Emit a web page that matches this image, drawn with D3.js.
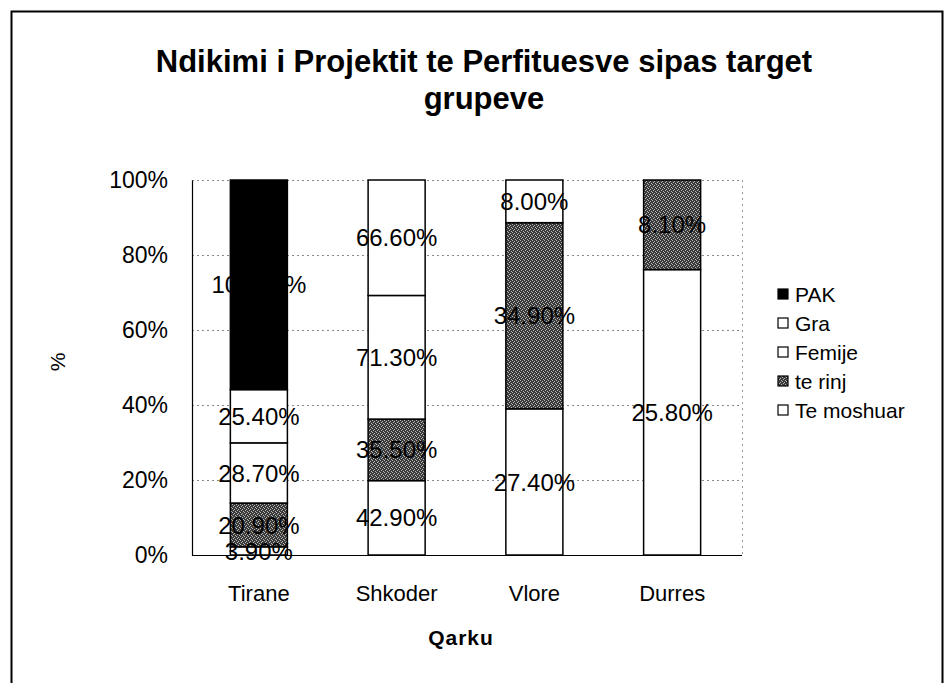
<!DOCTYPE html>
<html>
<head>
<meta charset="utf-8">
<script src="https://cdn.jsdelivr.net/npm/d3@7/dist/d3.min.js"></script>
<style>
  body { margin: 0; background: #fff; }
  svg { display: block; font-family: "Liberation Sans", Arial, sans-serif; }
</style>
</head>
<body>
<svg id="chart" width="944" height="683"></svg>
<script>
// ---- data ----
const categories = ["Tirane", "Shkoder", "Vlore", "Durres"];
const seriesNames = ["Te moshuar", "te rinj", "Femije", "Gra", "PAK"]; // stack order bottom -> top
const teMoshuar = [3.9, 42.9, 27.4, 25.8];
const teRinj    = [20.9, 35.5, 34.9, 8.1];
const femije    = [28.7, 71.3, 8.0, 0];
const gra       = [25.4, 66.6, 0, 0];
const pak       = [100.0, 0, 0, 0];
const yTicks = [0, 0.2, 0.4, 0.6, 0.8, 1.0];
const legendOrder = ["PAK", "Gra", "Femije", "te rinj", "Te moshuar"];
const titleLines = ["Ndikimi i Projektit te Perfituesve sipas target", "grupeve"];
const xTitle = "Qarku";
const yTitle = "%";

const seriesValues = [teMoshuar, teRinj, femije, gra, pak];
const rows = categories.map((c, i) => {
  const r = { cat: c };
  seriesNames.forEach((s, j) => r[s] = seriesValues[j][i]);
  return r;
});

const svg = d3.select("#chart");
const FONT = "Liberation Sans, Arial, sans-serif";

// pattern for "te rinj"
const defs = svg.append("defs");
const pat = defs.append("pattern").attr("id", "stipple")
  .attr("width", 4).attr("height", 4).attr("patternUnits", "userSpaceOnUse");
pat.append("rect").attr("width", 4).attr("height", 4).attr("fill", "#3a3a3a");
[[0,0],[2,1],[1,2],[3,3]].forEach(([x,y]) =>
  pat.append("rect").attr("x", x).attr("y", y).attr("width", 1).attr("height", 1).attr("fill", "#b8b8b8"));

const fills = {
  "Te moshuar": "#ffffff",
  "te rinj": "url(#stipple)",
  "Femije": "#ffffff",
  "Gra": "#ffffff",
  "PAK": "#000000"
};

// outer frame
svg.append("path").attr("d", "M11.5,683 L11.5,11.5 L942.5,11.5 L942.5,683")
  .attr("fill", "none").attr("stroke", "#000").attr("stroke-width", 2);

const plotL = 192, plotR = 742, plotT = 180, plotB = 555;
const x = d3.scaleBand().domain(categories).range([190, 741]).paddingInner(0.586).paddingOuter(0.293);
const y = d3.scaleLinear().domain([0, 1]).range([plotB, plotT]);

// gridlines
svg.append("g").selectAll("line").data(yTicks.filter(t => t > 0)).join("line")
  .attr("x1", plotL).attr("x2", plotR)
  .attr("y1", d => Math.round(y(d)) + 0.5).attr("y2", d => Math.round(y(d)) + 0.5)
  .attr("stroke", "#888").attr("stroke-dasharray", "2,3").attr("stroke-width", 1);

// right plot edge (dotted)
svg.append("line").attr("x1", plotR + 0.5).attr("x2", plotR + 0.5).attr("y1", plotT).attr("y2", plotB)
  .attr("stroke", "#999").attr("stroke-dasharray", "2,4");

// stack (100%)
const stack = d3.stack().keys(seriesNames).offset(d3.stackOffsetExpand);
const stacked = stack(rows);

const fmt = d3.format(".2f");
const barG = svg.append("g");
stacked.forEach(layer => {
  const key = layer.key;
  layer.forEach(d => {
    const v = d.data[key];
    if (!v) return;
    barG.append("rect")
      .attr("x", x(d.data.cat)).attr("width", x.bandwidth())
      .attr("y", y(d[1])).attr("height", y(d[0]) - y(d[1]))
      .attr("fill", fills[key]).attr("stroke", "#000").attr("stroke-width", 1.5);
  });
});
stacked.forEach(layer => {
  const key = layer.key;
  layer.forEach(d => {
    const v = d.data[key];
    if (!v) return;
    barG.append("text")
      .attr("x", x(d.data.cat) + x.bandwidth() / 2)
      .attr("y", (y(d[0]) + y(d[1])) / 2)
      .attr("dy", "0.36em").attr("text-anchor", "middle")
      .attr("font-size", 24).attr("fill", "#000")
      .text(fmt(v) + "%");
  });
});

// axes
const yAxis = d3.axisLeft(y).tickValues(yTicks).tickFormat(d3.format(".0%")).tickSize(0).tickPadding(24);
const yg = svg.append("g").attr("transform", `translate(${plotL},0)`).call(yAxis);
yg.select(".domain").attr("stroke", "#000").attr("stroke-width", 1.2);
yg.selectAll("text").attr("font-size", 23).attr("font-family", FONT).attr("fill", "#000");

const xAxis = d3.axisBottom(x).tickSize(0).tickPadding(30);
const xg = svg.append("g").attr("transform", `translate(0,${plotB})`).call(xAxis);
xg.select(".domain").attr("d", `M${plotL},0.5H${plotR}`).attr("stroke", "#000").attr("stroke-width", 1.2);
xg.selectAll("text").attr("font-size", 22).attr("font-family", FONT).attr("fill", "#000");

// titles
const tt = svg.append("text").attr("x", 484).attr("text-anchor", "middle")
  .attr("font-size", 31).attr("font-weight", "bold");
titleLines.forEach((l, i) => tt.append("tspan").attr("x", 484).attr("y", 72 + i * 37).text(l));

svg.append("text").attr("x", 461).attr("y", 645).attr("text-anchor", "middle")
  .attr("font-size", 21).attr("font-weight", "bold").attr("letter-spacing", 1).text(xTitle);

svg.append("text").attr("transform", "translate(65,362) rotate(-90)").attr("text-anchor", "middle")
  .attr("font-size", 21).text(yTitle);

// legend
const lg = svg.append("g").attr("transform", "translate(778,294)");
legendOrder.forEach((s, i) => {
  const g = lg.append("g").attr("transform", `translate(0,${i * 29})`);
  g.append("rect").attr("x", 0).attr("y", -5).attr("width", 10).attr("height", 10)
    .attr("fill", fills[s]).attr("stroke", "#000").attr("stroke-width", 1.2);
  g.append("text").attr("x", 17).attr("y", 0).attr("dy", "0.36em")
    .attr("font-size", 21).text(s);
});
</script>
</body>
</html>
